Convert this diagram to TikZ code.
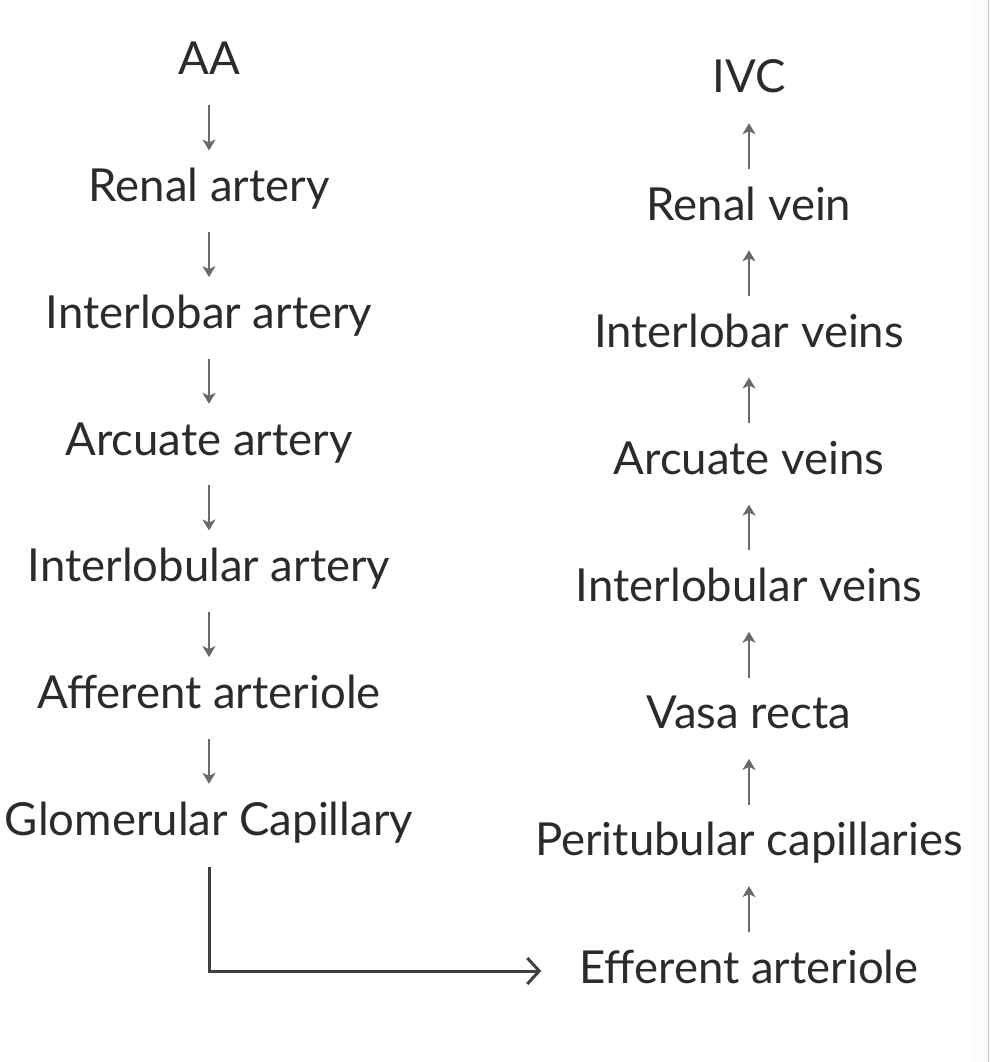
\documentclass[tikz,border=0pt]{standalone}
\usepackage{fontspec}
\setmainfont{Lato}
\usetikzlibrary{arrows.meta}
\definecolor{txt}{HTML}{2B2B2B}
\definecolor{arrgray}{HTML}{6A6A6A}
\definecolor{edgegray}{HTML}{C8C8C8}
\definecolor{bandgray}{HTML}{FCFCFC}
\begin{document}
\begin{tikzpicture}[x=1pt,y=-1pt,
  lbl/.style={font=\fontsize{45.5}{54}\selectfont, text=txt, inner sep=0pt, text height=32pt, text depth=0pt, anchor=base},
  flow/.style={draw=arrgray, line width=1.8pt, -{Stealth[length=11pt,width=13pt,inset=3pt]}},
  down/.style={flow, shorten <=30pt, shorten >=19pt},
  up/.style={flow, shorten <=19pt, shorten >=30pt},
  link/.style={draw=txt!90, line width=3pt, -{Straight Barb[length=12pt,width=26pt]}, shorten <=32pt, shorten >=38pt}
]
\useasboundingbox (0,0) rectangle (990,1062);
\fill[bandgray] (970,0) rectangle (988,1062);
\draw[edgegray, line width=1.5pt] (988.5,0) -- (988.5,1062);

% left column
\node[lbl] (aa)   at (209,75)    {AA};
\node[lbl] (ra)   at (209,201.7) {Renal artery};
\node[lbl] (ia)   at (209,328.3) {Interlobar artery};
\node[lbl] (arc)  at (209,455)   {Arcuate artery};
\node[lbl] (ila)  at (209,581.7) {Interlobular artery};
\node[lbl] (aff)  at (209,708.3) {Afferent arteriole};
\node[lbl] (glom) at (209,835)   {Glomerular Capillary};

% right column
\node[lbl] (ivc) at (749,93)    {IVC};
\node[lbl] (rv)  at (749,220.1) {Renal vein};
\node[lbl] (iv)  at (749,347.3) {Interlobar veins};
\node[lbl] (av)  at (749,474.4) {Arcuate veins};
\node[lbl] (ilv) at (749,601.6) {Interlobular veins};
\node[lbl] (vr)  at (749,728.7) {Vasa recta};
\node[lbl] (pc)  at (749,855.9) {Peritubular capillaries};
\node[lbl] (ea)  at (749,983)   {Efferent arteriole};

% arrows left
\draw[down] (aa.south) -- (ra.north);
\draw[down] (ra.south) -- (ia.north);
\draw[down] (ia.south) -- (arc.north);
\draw[down] (arc.south) -- (ila.north);
\draw[down] (ila.south) -- (aff.north);
\draw[down] (aff.south) -- (glom.north);

% arrows right
\draw[up] (rv.north) -- (ivc.south);
\draw[up] (iv.north) -- (rv.south);
\draw[up] (av.north) -- (iv.south);
\draw[up] (ilv.north) -- (av.south);
\draw[up] (vr.north) -- (ilv.south);
\draw[up] (pc.north) -- (vr.south);
\draw[up] (ea.north) -- (pc.south);

% connector
\draw[link] (glom.south) |- ([yshift=-4pt]ea.west);
\end{tikzpicture}
\end{document}
